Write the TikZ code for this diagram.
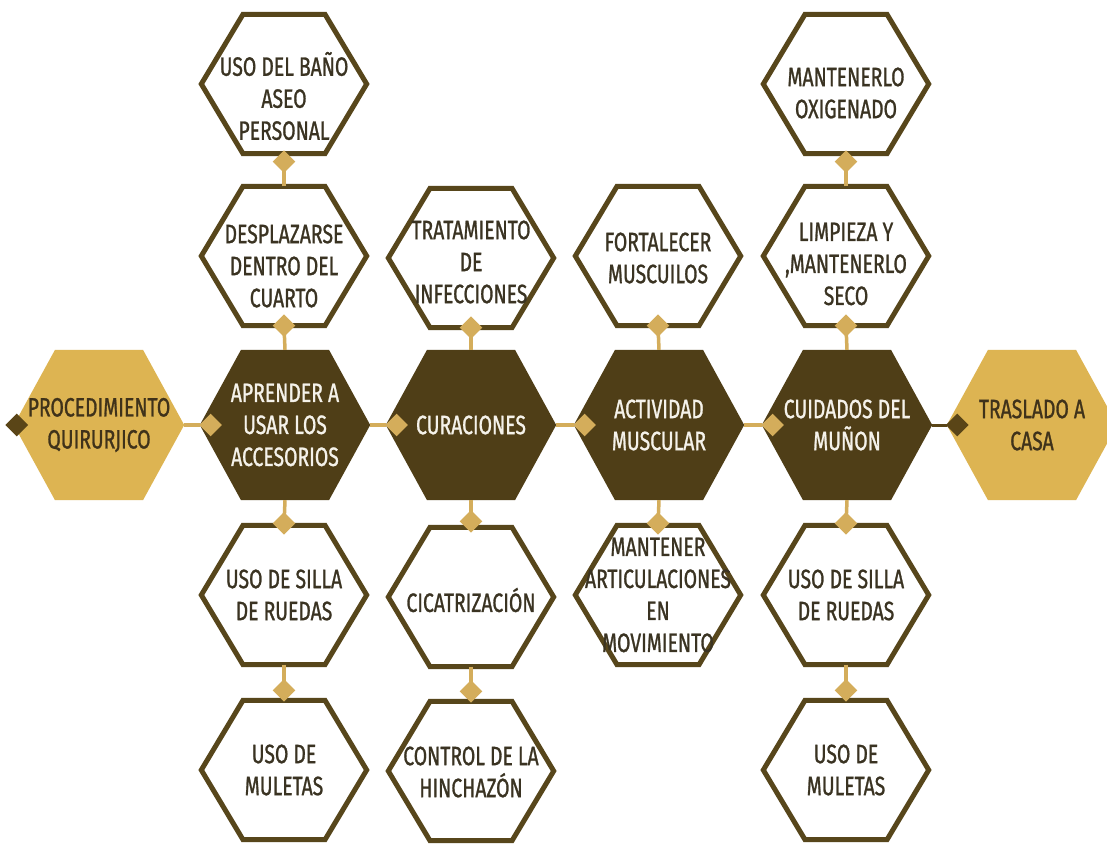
\documentclass[tikz,border=0pt]{standalone}
\usepackage{fontspec}
\setmainfont{Fira Sans}[FakeStretch=0.73, FakeBold=1]
\usetikzlibrary{shapes.geometric}

\definecolor{hexgold}{HTML}{DDB452}
\definecolor{hexdark}{HTML}{4F3E17}
\definecolor{rimdark}{HTML}{57461B}
\definecolor{linkgold}{HTML}{D4AD5B}
\definecolor{linkdark}{HTML}{5A4517}
\definecolor{inkdark}{HTML}{3A3322}
\definecolor{inkgold}{HTML}{3F321A}
\definecolor{inklight}{HTML}{F5F2EA}

\pgfdeclarelayer{background}
\pgfsetlayers{background,main}

% flat-topped hexagon traced through the anchors of a rectangular node
% #1 path style, #2 node name, #3 half length of the top edge
\newcommand\hexat[3]{%
  \path[#1] (#2.west) -- ([xshift=-#3]#2.north) -- ([xshift=#3]#2.north)
    -- (#2.east) -- ([xshift=#3]#2.south) -- ([xshift=-#3]#2.south) -- cycle;}

\begin{document}
\begin{tikzpicture}[x=1pt,y=-1pt,
  bigcell/.style={rectangle, inner sep=0pt, minimum width=170, minimum height=150},
  cell/.style={rectangle, inner sep=0pt, minimum width=165, minimum height=139},
  txtbase/.style={inner sep=0pt, align=center, font=\fontsize{26.5}{32}\selectfont},
  txtlight/.style={txtbase, text=inklight},
  txtgold/.style={txtbase, text=inkgold},
  txtrim/.style={txtbase, text=inkdark},
  goldhex/.style={fill=hexgold},
  darkhex/.style={fill=hexdark},
  rimhex/.style={fill=white, draw=rimdark, line width=5pt},
  glink/.style={draw=linkgold, line width=3.5pt},
  dlink/.style={draw=linkdark, line width=3pt},
  gdia/.style={diamond, fill=linkgold, inner sep=0pt, minimum width=24, minimum height=24},
  ddia/.style={diamond, fill=linkdark, inner sep=0pt, minimum width=24, minimum height=24}]

\useasboundingbox (0,0) rectangle (1107,846);

% main row
\node[bigcell] (proc) at (99,425) {};
\node[bigcell] (apr)  at (285,425) {};
\node[bigcell] (cur)  at (471,425) {};
\node[bigcell] (act)  at (659,425) {};
\node[bigcell] (cui)  at (847,425) {};
\node[bigcell] (tras) at (1032,425) {};

\node[txtgold]  (proc-t) at (proc) {PROCEDIMIENTO\\QUIRURJICO};
\node[txtlight] (apr-t)  at (apr)  {APRENDER A\\USAR LOS\\ACCESORIOS};
\node[txtlight] (cur-t)  at (cur)  {CURACIONES};
\node[txtlight] (act-t)  at (act)  {ACTIVIDAD\\MUSCULAR};
\node[txtlight] (cui-t)  at (cui)  {CUIDADOS DEL\\MUÑON};
\node[txtgold]  (tras-t) at (tras) {TRASLADO A\\CASA};

% upper branches
\node[cell] (bano) at (284,84) {};
\node[cell] (desp) at (284,256) {};
\node[cell] (trat) at (471,258) {};
\node[cell] (fort) at (658,256) {};
\node[cell] (oxi)  at (846,84) {};
\node[cell] (limp) at (846,256) {};

\node[txtrim] (bano-t) at (284,96)  {USO DEL BAÑO\\ASEO\\PERSONAL};
\node[txtrim] (desp-t) at (284,266) {DESPLAZARSE\\DENTRO DEL\\CUARTO};
\node[txtrim] (trat-t) at (471,262) {TRATAMIENTO\\DE\\INFECCIONES};
\node[txtrim] (fort-t) at (658,258) {FORTALECER\\MUSCUILOS};
\node[txtrim] (oxi-t)  at (846,93)  {MANTENERLO\\OXIGENADO};
\node[txtrim] (limp-t) at (846,264) {LIMPIEZA Y\\,MANTENERLO\\SECO};

% lower branches
\node[cell] (sil1) at (284,595) {};
\node[cell] (mul1) at (284,770) {};
\node[cell] (cica) at (471,597) {};
\node[cell] (hinc) at (471,771) {};
\node[cell] (mant) at (658,595) {};
\node[cell] (sil4) at (846,595) {};
\node[cell] (mul4) at (846,770) {};

\node[txtrim] (sil1-t) at (sil1) {USO DE SILLA\\DE RUEDAS};
\node[txtrim] (mul1-t) at (mul1) {USO DE\\MULETAS};
\node[txtrim] (cica-t) at (471,600) {CICATRIZACIÓN};
\node[txtrim] (hinc-t) at (471,772) {CONTROL DE LA\\HINCHAZÓN};
\node[txtrim] (mant-t) at (mant) {MANTENER\\ARTICULACIONES\\EN\\MOVIMIENTO};
\node[txtrim] (sil4-t) at (sil4) {USO DE SILLA\\DE RUEDAS};
\node[txtrim] (mul4-t) at (mul4) {USO DE\\MULETAS};

% hexagon bodies behind the texts
\begin{pgfonlayer}{background}
  \fill[white] (0,0) rectangle (1107,846);
  \hexat{goldhex}{proc}{44}
  \hexat{goldhex}{tras}{44}
  \foreach \c in {apr,cur,act,cui} {\hexat{darkhex}{\c}{44}}
  \foreach \c in {bano,desp,trat,fort,oxi,limp,sil1,mul1,cica,hinc,mant,sil4,mul4} {\hexat{rimhex}{\c}{41}}
\end{pgfonlayer}

% main row connectors
\coordinate (start) at (8,425);
\draw[dlink] (start) -- (proc.west) node[ddia, pos=1, xshift=3] {};
\draw[glink] (proc.east) -- (apr.west) node[gdia, pos=1, anchor=west, xshift=-3] {};
\draw[glink] (apr.east) -- (cur.west) node[gdia, pos=1, anchor=west, xshift=-3] {};
\draw[glink] (cur.east) -- (act.west) node[gdia, pos=1, anchor=west, xshift=-3] {};
\draw[glink] (act.east) -- (cui.west) node[gdia, pos=1, anchor=west, xshift=-3] {};
\draw[dlink] (cui.east) -- (tras.west) node[ddia, pos=1, anchor=west, xshift=-3] {};

% upward connectors
\draw[glink] (apr.north) -- (desp.south) node[gdia, pos=1] {};
\draw[glink] (desp.north) -- (bano.south) node[gdia, pos=1, yshift=-8] {};
\draw[glink] (cur.north) -- (trat.south) node[gdia, pos=1] {};
\draw[glink] (act.north) -- (fort.south) node[gdia, pos=1] {};
\draw[glink] (cui.north) -- (limp.south) node[gdia, pos=1] {};
\draw[glink] (limp.north) -- (oxi.south) node[gdia, pos=1, yshift=-8] {};

% downward connectors
\draw[glink] (apr.south) -- (sil1.north) node[gdia, pos=1, yshift=2] {};
\draw[glink] (sil1.south) -- (mul1.north) node[gdia, pos=1, yshift=10] {};
\draw[glink] (cur.south) -- (cica.north) node[gdia, pos=1, yshift=6] {};
\draw[glink] (cica.south) -- (hinc.north) node[gdia, pos=1, yshift=10] {};
\draw[glink] (act.south) -- (mant.north) node[gdia, pos=1, yshift=2] {};
\draw[glink] (cui.south) -- (sil4.north) node[gdia, pos=1, yshift=2] {};
\draw[glink] (sil4.south) -- (mul4.north) node[gdia, pos=1, yshift=10] {};

\end{tikzpicture}
\end{document}
